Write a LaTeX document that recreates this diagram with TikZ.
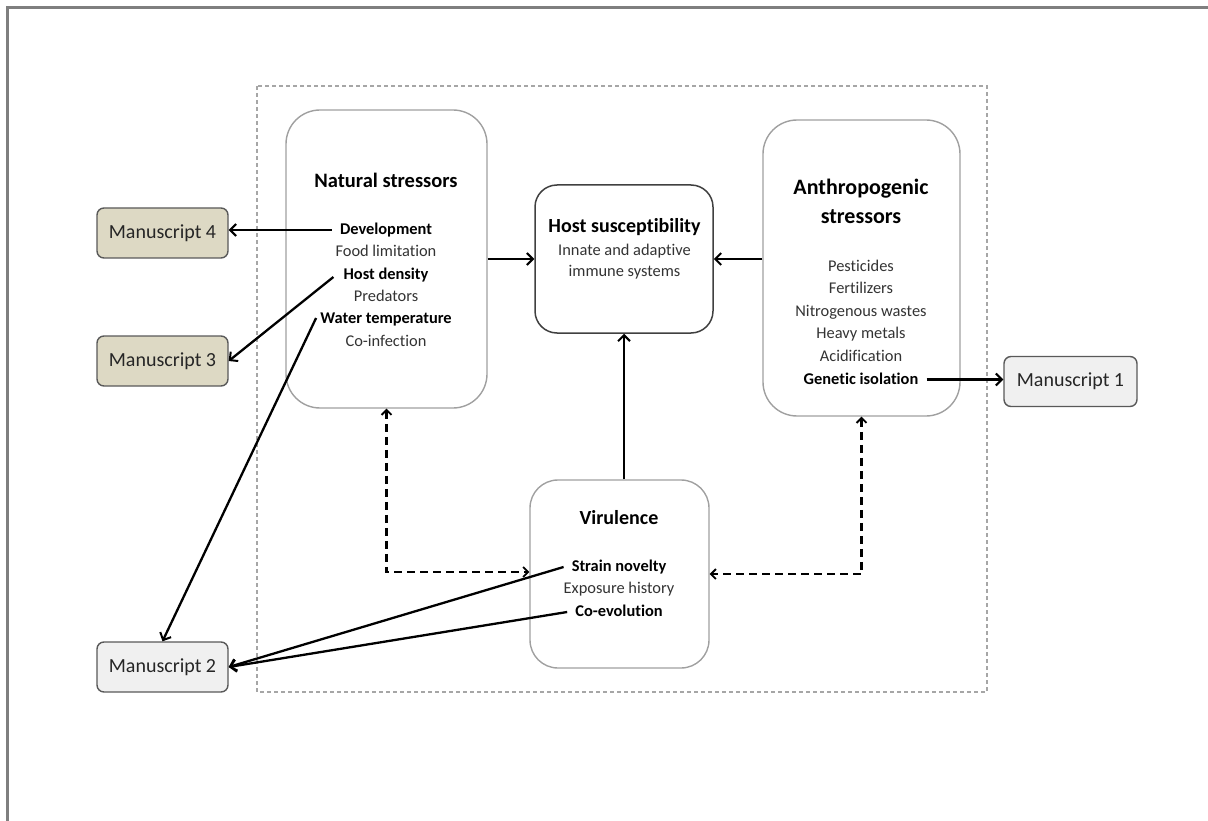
\documentclass[tikz,border=0pt]{standalone}
\usepackage{fontspec}
\setmainfont{Carlito}[Ligatures=NoCommon]
\usetikzlibrary{arrows.meta}
\definecolor{framegray}{HTML}{7F7F7F}
\definecolor{dashgray}{HTML}{A6A6A6}
\definecolor{boxgray}{HTML}{A0A0A0}
\definecolor{hostborder}{HTML}{404040}
\definecolor{msborder}{HTML}{595959}
\definecolor{beige}{HTML}{DDD9C4}
\definecolor{lightfill}{HTML}{F0F0F0}
\definecolor{itemgray}{HTML}{333333}
\definecolor{mstext}{HTML}{262626}
\tikzset{
  bigbox/.style={draw=boxgray, line width=1.4pt, rounded corners=34pt, inner sep=0pt},
  hostbox/.style={draw=hostborder, line width=1.5pt, rounded corners=22pt, inner sep=0pt},
  virbox/.style={draw=boxgray, line width=1.4pt, rounded corners=28pt, inner sep=0pt},
  ms/.style={draw=msborder, line width=1.4pt, rounded corners=7pt, minimum width=131pt,
    minimum height=50pt, inner sep=0pt, font=\fontsize{20}{24}\selectfont, text=mstext},
  item/.style={inner sep=0pt, text height=11.5pt, text depth=1.6pt, text=itemgray,
    font=\fontsize{16.4}{20}\selectfont},
  bitem/.style={item, text=black, font=\fontsize{16.4}{20}\selectfont\bfseries},
  head/.style={inner sep=0pt, text height=14pt, text depth=2pt, text=black},
  conn/.style={line width=2.3pt, -{Straight Barb[length=6pt,width=12pt,line width=2pt]}},
  dconn/.style={line width=2.3pt, dash pattern=on 8pt off 5pt,
    {Straight Barb[length=5pt,width=10pt,line width=1.8pt]}-{Straight Barb[length=5pt,width=10pt,line width=1.8pt]}}
}
\begin{document}
\begin{tikzpicture}[x=1pt,y=-1pt]
\useasboundingbox (0,0) rectangle (1208,821);
% outer frame (top and left edges)
\draw[framegray, line width=2.2pt] (7.5,821) -- (7.5,7.5) -- (1208,7.5);
% dashed enclosure
\draw[dashgray, line width=1.1pt, dash pattern=on 4pt off 3pt] (257,86) rectangle (987,692);

% main boxes
\node[bigbox, minimum width=201pt, minimum height=298pt] (nat) at (386.5,259) {};
\node[hostbox, minimum width=178pt, minimum height=148pt] (host) at (624,259) {};
\node[bigbox, minimum width=197pt, minimum height=296pt] (anth) at (861.5,268) {};
\node[virbox, minimum width=179pt, minimum height=188pt] (vir) at (619.5,574) {};

% manuscript boxes
\node[ms, fill=beige] (m4) at (162.5,233) {Manuscript 4};
\node[ms, fill=beige] (m3) at (162.5,361) {Manuscript 3};
\node[ms, fill=lightfill] (m2) at (162.5,667) {Manuscript 2};
\node[ms, fill=lightfill, minimum width=133pt] (m1) at (1070.5,381.5) {Manuscript 1};

% natural stressors text
\node[head, font=\fontsize{20.5}{24}\selectfont\bfseries] (nath) at (386,182) {Natural stressors};
\node[bitem] (dev) at (386,230) {Development};
\node[item] (food) at (386,252) {Food limitation};
\node[bitem] (hd) at (386,275) {Host density};
\node[item] (pred) at (386,297) {Predators};
\node[bitem] (wt) at (386,319) {Water temperature};
\node[item] (coinf) at (386,342) {Co-infection};

% host susceptibility text
\node[head, font=\fontsize{20}{24}\selectfont\bfseries] (hosth) at (624.5,227) {Host susceptibility};
\node[item] (innate) at (624.5,251) {Innate and adaptive};
\node[item] (immune) at (624.5,272) {immune systems};

% anthropogenic text
\node[head, font=\fontsize{22}{26}\selectfont\bfseries] (anth1) at (861,189) {Anthropogenic};
\node[head, font=\fontsize{22}{26}\selectfont\bfseries] (anth2) at (861,218) {stressors};
\node[item] (pest) at (861,267) {Pesticides};
\node[item] (fert) at (861,289) {Fertilizers};
\node[item] (nitro) at (861,312) {Nitrogenous wastes};
\node[item] (heavy) at (861,334) {Heavy metals};
\node[item] (acid) at (861,357) {Acidification};
\node[bitem] (gi) at (861,379.5) {Genetic isolation};

% virulence text
\node[head, font=\fontsize{20}{24}\selectfont\bfseries] (virh) at (619,518) {Virulence};
\node[bitem] (sn) at (619,567) {Strain novelty};
\node[item] (exp) at (619,589) {Exposure history};
\node[bitem] (coev) at (619,612) {Co-evolution};

% connectors
\draw[conn] (nat.east) -- (host.west);
\draw[conn] (anth.west |- host.east) -- (host.east);
\draw[conn] (host.south |- vir.north) -- (host.south);
\draw[conn] ([xshift=-8pt]dev.west) -- (m4.east |- dev.west);
\draw[conn] ([xshift=-10pt,yshift=-2pt]hd.west) -- (m3.east);
\draw[conn] ([xshift=-4pt,yshift=1pt]wt.west) -- (m2.north);
\draw[conn] ([xshift=-8pt]sn.west) -- (m2.east);
\draw[conn] ([xshift=-8pt]coev.west) -- (m2.east);
\draw[conn] ([xshift=8pt]gi.east) -- (m1.west |- gi.east);
\draw[dconn] (nat.south) |- ([yshift=2pt]vir.west);
\draw[dconn] (anth.south) |- (vir.east);
\end{tikzpicture}
\end{document}
